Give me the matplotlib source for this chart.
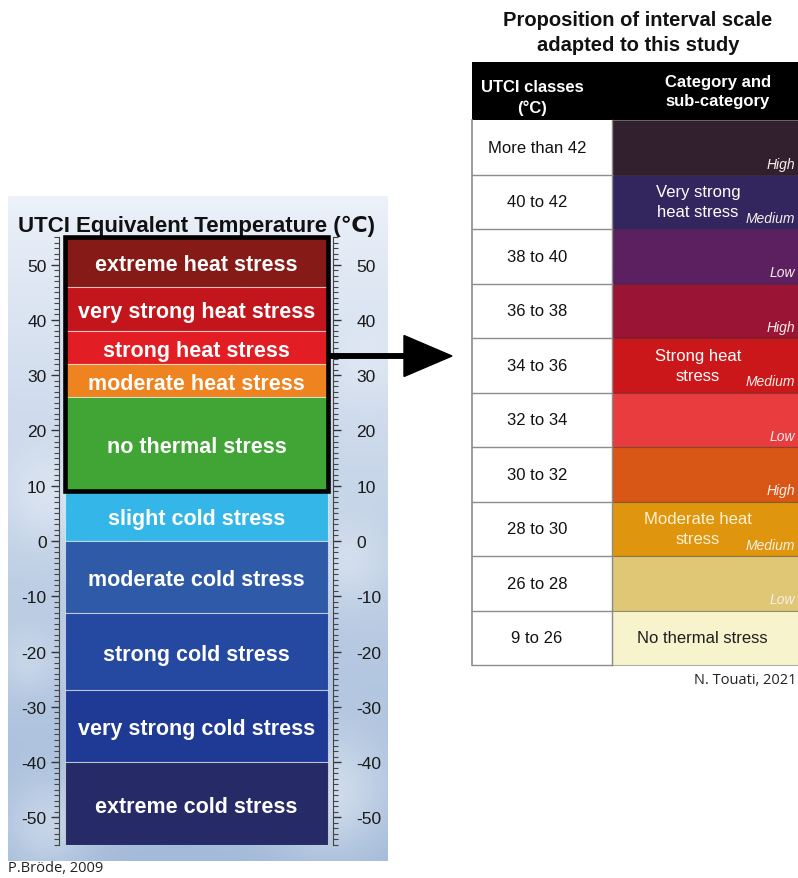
import matplotlib
matplotlib.use('Agg')
import matplotlib.pyplot as plt
import numpy as np
from matplotlib.patches import Rectangle
from matplotlib.ticker import FixedLocator, MultipleLocator

plt.rcParams['font.family'] = ['Liberation Sans', 'DejaVu Sans']
plt.rcParams['axes.unicode_minus'] = False

# ---------------- Data: UTCI assessment scale (left) ----------------
utci_labels = ["extreme heat stress", "very strong heat stress", "strong heat stress",
               "moderate heat stress", "no thermal stress", "slight cold stress",
               "moderate cold stress", "strong cold stress", "very strong cold stress",
               "extreme cold stress"]
utci_upper = [55, 46, 38, 32, 26, 9, 0, -13, -27, -40]
utci_lower = [46, 38, 32, 26, 9, 0, -13, -27, -40, -55]
utci_colors = ["#851a16", "#c3161c", "#e31d24", "#ef831f", "#40a535", "#34b6e8",
               "#2f5aa7", "#2548a0", "#1f3a94", "#262a66"]
scale_ticks = [-50, -40, -30, -20, -10, 0, 10, 20, 30, 40, 50]
highlight_range = (9, 55)

# ---------------- Data: proposed interval table (right) ----------------
classes = ["More than 42", "40 to 42", "38 to 40", "36 to 38", "34 to 36",
           "32 to 34", "30 to 32", "28 to 30", "26 to 28", "9 to 26"]
sub_categories = ["High", "Medium", "Low", "High", "Medium", "Low",
                  "High", "Medium", "Low", ""]
categories = ["Very strong\nheat stress", "Strong heat\nstress",
              "Moderate heat\nstress", "No thermal stress"]
category_rows = [1, 4, 7, 9]
cell_colors = ["#33202f", "#33265e", "#5c2060", "#9a1535", "#cb1719",
               "#e83c3e", "#d85616", "#df960e", "#dfc775", "#f7f3cd"]
category_text_colors = ["white", "white", "#fdf1d2", "#1e1e1e"]

# ---------------- Figure ----------------
W, H = 798, 879
fig = plt.figure(figsize=(W / 100, H / 100), dpi=100)
bg = fig.add_axes([0, 0, 1, 1])
bg.set_xlim(0, W)
bg.set_ylim(H, 0)
bg.axis('off')

# sky-like backdrop behind the scale
ny, nx = 240, 120
yy, xx = np.mgrid[0:1:ny * 1j, 0:1:nx * 1j]
top = np.array([0.93, 0.95, 0.98])
bot = np.array([0.64, 0.73, 0.85])
sky = top[None, None, :] * (1 - yy[..., None] ** 0.8) + bot[None, None, :] * (yy[..., None] ** 0.8)
for cx, cy, s, a in [(0.1, 0.45, 0.12, 0.35), (0.9, 0.55, 0.1, 0.3), (0.85, 0.9, 0.15, 0.45),
                     (0.1, 0.95, 0.12, 0.35), (0.05, 0.7, 0.08, 0.25), (0.95, 0.25, 0.1, 0.2)]:
    g = a * np.exp(-(((xx - cx) / s) ** 2 + ((yy - cy) / (s * 0.6)) ** 2))
    sky = sky * (1 - g[..., None]) + g[..., None]
bg.imshow(np.clip(sky, 0, 1), extent=[8, 388, 862, 197], aspect='auto',
          interpolation='bilinear', zorder=0)

bg.text(197, 226, "UTCI Equivalent Temperature (℃)", ha='center', va='center',
        fontsize=16, fontweight='bold', color='#111111')

# scale axes
ax = fig.add_axes([59 / W, (H - 846) / H, 274 / W, 608 / H])
ax.patch.set_alpha(0)
ax.set_xlim(0, 1)
ax.set_ylim(-55, 55)
heights = [u - l for u, l in zip(utci_upper, utci_lower)]
ax.bar([0.502] * len(heights), heights, bottom=utci_lower, width=0.96,
       color=utci_colors, edgecolor=(1, 1, 1, 0.55), linewidth=0.8, zorder=2)
for lab, u, l in zip(utci_labels, utci_upper, utci_lower):
    ax.text(0.502, (u + l) / 2, lab, ha='center', va='center_baseline', color='white',
            fontsize=15.5, fontweight='bold', zorder=4)
ax.add_patch(Rectangle((0.022, highlight_range[0]), 0.96,
                       highlight_range[1] - highlight_range[0], fill=False,
                       ec='black', lw=3.3, zorder=3, clip_on=False))
ax.set_xticks([])
ax.yaxis.set_major_locator(FixedLocator(scale_ticks))
ax.yaxis.set_minor_locator(MultipleLocator(1))
ax.tick_params(axis='y', which='major', direction='out', length=6, width=1,
               color='#333333', labelsize=12.5, labelcolor='#1a1a1a', pad=3)
ax.tick_params(axis='y', which='minor', direction='out', length=3.5, width=0.8,
               color='#444444')
for s in ['top', 'bottom', 'right']:
    ax.spines[s].set_visible(False)
ax.spines['left'].set_color('#444444')

ax2 = ax.twinx()
ax2.set_ylim(-55, 55)
ax2.yaxis.set_major_locator(FixedLocator(scale_ticks))
ax2.yaxis.set_minor_locator(MultipleLocator(1))
ax2.tick_params(axis='y', which='major', direction='out', length=6, width=1,
                color='#333333', labelsize=12.5, labelcolor='#1a1a1a', pad=11)
ax2.tick_params(axis='y', which='minor', direction='out', length=3.5, width=0.8,
                color='#444444')
for s in ['top', 'bottom', 'left']:
    ax2.spines[s].set_visible(False)
ax2.spines['right'].set_color('#444444')

bg.text(8, 869, "P.Bröde, 2009", ha='left', va='center', fontsize=10.5,
        family=['Open Sans', 'DejaVu Sans'], color='#222222')

# arrow
arrow_ax = fig.add_axes([0, 0, 1, 1])
arrow_ax.set_xlim(0, W)
arrow_ax.set_ylim(H, 0)
arrow_ax.axis('off')
arrow_ax.arrow(330, 357, 122, 0, width=4.5, head_width=41, head_length=48,
               length_includes_head=True, color='black', zorder=5)

# ---------------- Table ----------------
tx0, tdiv, tx1 = 472, 612, 812
row_h = 54.5
top0 = 121
arrow_ax.text(638, 33, "Proposition of interval scale\nadapted to this study",
              ha='center', va='center', fontsize=14.5, fontweight='bold',
              color='#111111', linespacing=1.45)
arrow_ax.add_patch(Rectangle((tx0, 63), tx1 - tx0, top0 - 63, fc='black', ec='none'))
arrow_ax.text(532, 98, "UTCI classes\n(°C)", ha='center', va='center', color='white',
              fontsize=12, fontweight='bold', linespacing=1.4)
arrow_ax.text(718, 92, "Category and\nsub-category", ha='center', va='center',
              color='white', fontsize=12, fontweight='bold', linespacing=1.4)

for i, cls in enumerate(classes):
    y0 = top0 + i * row_h
    arrow_ax.add_patch(Rectangle((tdiv, y0), tx1 - tdiv, row_h, fc=cell_colors[i],
                                 ec=(0, 0, 0, 0.3), lw=0.8))
    arrow_ax.text(537, y0 + row_h / 2, cls, ha='center', va='center', fontsize=12,
                  color='#111111')
    arrow_ax.plot([tx0, tdiv], [y0 + row_h, y0 + row_h], color='#8c8c8c', lw=1)
    sc = sub_categories[i]
    if sc:
        arrow_ax.text(795, y0 + row_h - 11, sc, ha='right', va='center',
                      fontsize=10, style='italic', color='#f6efe9')
for cat, r, c in zip(categories, category_rows, category_text_colors):
    y0 = top0 + r * row_h
    xc = 702 if r == 9 else 698
    arrow_ax.text(xc, y0 + row_h / 2, cat, ha='center', va='center', fontsize=12,
                  color=c, linespacing=1.45)
ybot = top0 + len(classes) * row_h
arrow_ax.plot([tx0, tx0], [top0, ybot], color='#8c8c8c', lw=1.2)
arrow_ax.plot([tdiv, tdiv], [top0, ybot], color='#8c8c8c', lw=1)

arrow_ax.text(797, 681, "N. Touati, 2021", ha='right', va='center', fontsize=10.5,
              family=['Open Sans', 'DejaVu Sans'], color='#222222')

fig.savefig('out.png', dpi=100)
